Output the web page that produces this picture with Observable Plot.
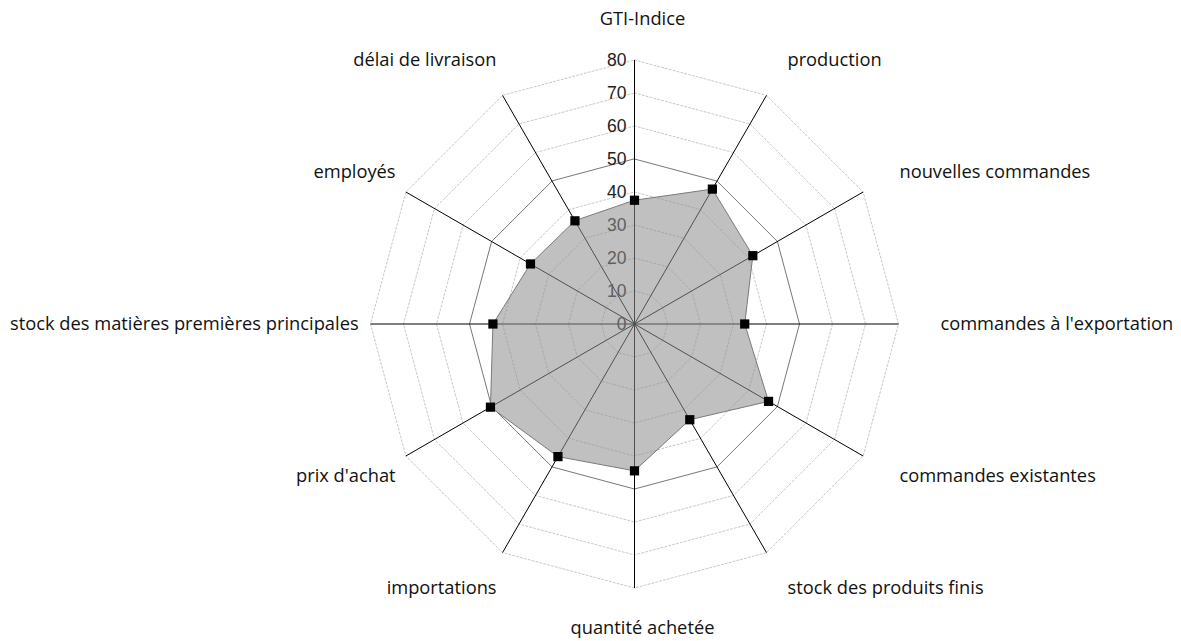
<!DOCTYPE html>
<html>
<head>
<meta charset="utf-8">
<script src="https://cdn.jsdelivr.net/npm/d3@7"></script>
<script src="https://cdn.jsdelivr.net/npm/@observablehq/plot@0.6"></script>
<style>
  html, body { margin: 0; padding: 0; background: #fff; }
  #chart svg { display: block; }
</style>
</head>
<body>
<div id="chart"></div>
<script>
const categories = [
  "GTI-Indice", "production", "nouvelles commandes", "commandes à l'exportation",
  "commandes existantes", "stock des produits finis", "quantité achetée", "importations",
  "prix d'achat", "stock des matières premières principales", "employés", "délai de livraison"
];
const values = [37.5, 47.2, 41.4, 33.4, 46.9, 33.5, 44.5, 46.4, 50.4, 42.9, 36.4, 36.1];
const tickValues = [0, 10, 20, 30, 40, 50, 60, 70, 80];
const gridLevels = [10, 20, 30, 40, 50, 60, 70, 80];
const maxValue = 80;

const W = 1181, H = 641, cx = 634, cy = 323.5, k = 3.3;
// label offsets (in value units): vertical radius, horizontal radius right / left side
const labelRy = 92.3, labelRxRight = 92.7, labelRxLeft = 83.6;

const n = categories.length;
const angle = i => (i / n) * 2 * Math.PI; // clockwise from top
const px = (i, r) => r * Math.sin(angle(i));
const py = (i, r) => r * Math.cos(angle(i));

const gridPts = gridLevels.flatMap(level => categories.map((c, i) => ({level, x: px(i, level), y: py(i, level)})));
const spokes = categories.map((c, i) => ({x2: px(i, maxValue), y2: py(i, maxValue)}));
const series = categories.map((c, i) => ({name: c, value: values[i], x: px(i, values[i]), y: py(i, values[i])}));
const labels = categories.map((c, i) => {
  const s = Math.sin(angle(i));
  const rx = s < -0.01 ? labelRxLeft : labelRxRight;
  return {name: c, x: px(i, rx), y: py(i, labelRy), s};
});
const ticks = tickValues.map(t => ({t, x: 0, y: t}));

const chart = Plot.plot({
  width: W, height: H,
  margin: 0,
  x: {domain: [-cx / k, (W - cx) / k], axis: null},
  y: {domain: [-(H - cy) / k, cy / k], axis: null},
  style: {fontFamily: "'Open Sans', sans-serif", background: "#fff"},
  marks: [
    Plot.line(gridPts.filter(d => d.level !== 50), {x: "x", y: "y", z: "level", curve: "linear-closed", stroke: "#c8c8c8", strokeWidth: 1, strokeDasharray: "2,2"}),
    Plot.line(gridPts.filter(d => d.level === 50), {x: "x", y: "y", z: "level", curve: "linear-closed", stroke: "#777", strokeWidth: 1}),
    Plot.link(spokes, {x1: 0, y1: 0, x2: "x2", y2: "y2", stroke: "#000", strokeWidth: 1}),
    Plot.text(ticks, {x: "x", y: "y", text: d => String(d.t), textAnchor: "end", dx: -8, fontSize: 17.5, fill: "#222", fontFamily: "'Liberation Sans', Arial, sans-serif"}),
    Plot.line(series, {x: "x", y: "y", curve: "linear-closed", fill: "#8e8e8e", fillOpacity: 0.56, stroke: "#7a7a7a", strokeWidth: 1}),
    Plot.dot(series, {x: "x", y: "y", symbol: "square", r: 5.2, fill: "#000", stroke: "none"}),
    Plot.text(labels.filter(d => d.s > 0.01), {x: "x", y: "y", text: "name", textAnchor: "start", fontSize: 18.3, fill: "#111"}),
    Plot.text(labels.filter(d => d.s < -0.01), {x: "x", y: "y", text: "name", textAnchor: "end", fontSize: 18.3, fill: "#111"}),
    Plot.text(labels.filter(d => Math.abs(d.s) <= 0.01), {x: "x", y: "y", text: "name", textAnchor: "middle", dx: 8, fontSize: 18.3, fill: "#111"})
  ]
});
document.getElementById("chart").appendChild(chart);
</script>
</body>
</html>
